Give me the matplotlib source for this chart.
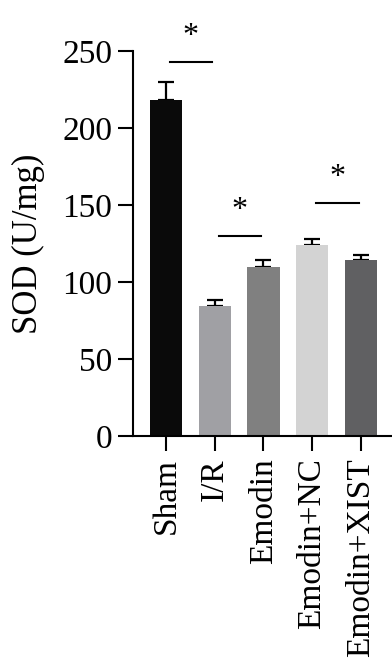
import matplotlib
matplotlib.use("Agg")
import matplotlib.pyplot as plt

categories = ["Sham", "I/R", "Emodin", "Emodin+NC", "Emodin+XIST"]
values = [218, 84.5, 109.5, 124, 114]
errors = [12, 4, 5, 4, 3.5]
colors = ["#0a0a0a", "#a0a0a4", "#808080", "#d3d3d3", "#606062"]
yticks = [0, 50, 100, 150, 200, 250]
# significance brackets: (start index, end index, height)
sig_pairs = [(0, 1, 243), (1, 2, 130), (3, 4, 151.5)]

plt.rcParams['font.family'] = ['Liberation Serif', 'DejaVu Serif']

fig = plt.figure(figsize=(3.92, 6.64), dpi=100)
ax = fig.add_axes([133/392, 228/664, 1 - 133/392, (436-51)/664])

x = list(range(len(categories)))
ax.bar(x, values, width=0.66, color=colors, zorder=2)
ax.errorbar(x, values, yerr=[[0]*len(errors), errors], fmt='none',
            ecolor='black', elinewidth=1.6, capsize=6, capthick=1.6, zorder=1)

for a, b, h in sig_pairs:
    ax.plot([a + 0.08, b - 0.05], [h, h], color='black', lw=1.5, clip_on=False)
    ax.text((a + b) / 2 + 0.01, h + 7, "*", ha='center', va='bottom',
            fontsize=23, clip_on=False)

ax.set_ylim(0, 250)
ax.set_xlim(-0.677, 4.636)
ax.set_yticks(yticks)
ax.set_yticklabels([str(t) for t in yticks], fontsize=24)
ax.set_xticks(x)
ax.set_xticklabels(categories, rotation=90, fontsize=24)
ax.set_ylabel("SOD (U/mg)", fontsize=25, labelpad=12)

for s in ['top', 'right']:
    ax.spines[s].set_visible(False)
for s in ['left', 'bottom']:
    ax.spines[s].set_linewidth(1.5)
ax.tick_params(axis='both', length=11, width=1.5, direction='out')
ax.tick_params(axis='y', pad=4)
ax.tick_params(axis='x', pad=5)

fig.savefig("out.png", dpi=100)
